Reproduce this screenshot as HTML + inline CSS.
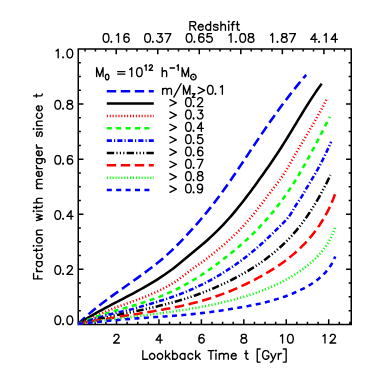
<!DOCTYPE html>
<html><head><meta charset="utf-8"><title>Fraction with merger since t</title>
<style>html,body{margin:0;padding:0;background:#fff;font-family:"Liberation Sans",sans-serif}svg{display:block}</style>
</head><body>
<svg width="374" height="374" viewBox="0 0 374 374">
<rect x="0" y="0" width="374" height="374" fill="#fff"/>
<g fill="none" stroke-width="2.55"><path d="M106.8 91.2 H153.8" stroke="#0000ff" stroke-dasharray="9.4 4.6"/><path d="M106.8 103.55 H153.8" stroke="#000000"/><path d="M106.8 115.9 H153.8" stroke="#ff0000" stroke-dasharray="1.1 1.8"/><path d="M106.8 128.25 H153.8" stroke="#00ff00" stroke-dasharray="5 4.4"/><path d="M106.8 140.6 H153.8" stroke="#0000ff" stroke-dasharray="5.1 2.1 1.2 2.1"/><path d="M106.8 152.95 H153.8" stroke="#000000" stroke-dasharray="7.4 2.2 1.2 2.2 1.2 2.2 1.2 2.2"/><path d="M106.8 165.3 H153.8" stroke="#ff0000" stroke-dasharray="9.4 4.6"/><path d="M106.8 177.65 H153.8" stroke="#00ff00" stroke-dasharray="1.1 1.8"/><path d="M106.8 190 H153.8" stroke="#0000ff" stroke-dasharray="5 4.4"/></g>
<path d="M78.25 49H351.25V324.4H78.25ZM84.67 324.4v-2.6M85.05 49v2.6M95.28 324.4v-2.6M95.43 49v2.6M105.89 324.4v-2.6M105.81 49v2.6M116.5 324.4v-5.2M116.2 49v5.2M127.11 324.4v-2.6M126.58 49v2.6M137.72 324.4v-2.6M136.97 49v2.6M148.33 324.4v-2.6M147.35 49v2.6M158.94 324.4v-5.2M157.74 49v5.2M169.55 324.4v-2.6M168.12 49v2.6M180.16 324.4v-2.6M178.51 49v2.6M190.77 324.4v-2.6M188.89 49v2.6M201.38 324.4v-5.2M199.28 49v5.2M211.99 324.4v-2.6M209.66 49v2.6M222.6 324.4v-2.6M220.05 49v2.6M233.21 324.4v-2.6M230.44 49v2.6M243.82 324.4v-5.2M240.82 49v5.2M254.43 324.4v-2.6M251.2 49v2.6M265.04 324.4v-2.6M261.59 49v2.6M275.65 324.4v-2.6M271.98 49v2.6M286.26 324.4v-5.2M282.36 49v5.2M296.87 324.4v-2.6M292.75 49v2.6M307.48 324.4v-2.6M303.13 49v2.6M318.09 324.4v-2.6M313.51 49v2.6M328.7 324.4v-5.2M323.9 49v5.2M339.31 324.4v-2.6M334.28 49v2.6M349.92 324.4v-2.6M344.67 49v2.6M78.25 310.63h2.6M351.25 310.63h-2.6M78.25 296.86h2.6M351.25 296.86h-2.6M78.25 283.09h2.6M351.25 283.09h-2.6M78.25 269.32h5.2M351.25 269.32h-5.2M78.25 255.55h2.6M351.25 255.55h-2.6M78.25 241.78h2.6M351.25 241.78h-2.6M78.25 228.01h2.6M351.25 228.01h-2.6M78.25 214.24h5.2M351.25 214.24h-5.2M78.25 200.47h2.6M351.25 200.47h-2.6M78.25 186.7h2.6M351.25 186.7h-2.6M78.25 172.93h2.6M351.25 172.93h-2.6M78.25 159.16h5.2M351.25 159.16h-5.2M78.25 145.39h2.6M351.25 145.39h-2.6M78.25 131.62h2.6M351.25 131.62h-2.6M78.25 117.85h2.6M351.25 117.85h-2.6M78.25 104.08h5.2M351.25 104.08h-5.2M78.25 90.31h2.6M351.25 90.31h-2.6M78.25 76.54h2.6M351.25 76.54h-2.6M78.25 62.77h2.6M351.25 62.77h-2.6" fill="none" stroke="#000" stroke-width="1.5" stroke-linejoin="miter"/>
<g fill="none" stroke-width="2.55" stroke-linejoin="round"><polyline points="78.3,323.8 81.04,321.12 83.84,318.49 86.68,315.92 89.57,313.4 92.5,310.93 95.46,308.5 98.47,306.11 101.5,303.76 104.55,301.44 107.63,299.14 110.74,296.87 113.85,294.62 116.99,292.39 120.13,290.16 123.27,287.95 126.42,285.74 129.57,283.53 132.71,281.32 135.85,279.11 138.97,276.88 142.08,274.63 145.18,272.37 148.24,270.09 151.29,267.78 154.3,265.44 157.29,263.07 160.23,260.66 163.14,258.2 166.01,255.71 168.82,253.16 171.6,250.57 174.33,247.93 177.03,245.25 179.7,242.54 182.34,239.8 184.96,237.03 187.57,234.24 190.15,231.42 192.73,228.59 195.28,225.74 197.81,222.87 200.31,219.97 202.79,217.05 205.25,214.11 207.68,211.15 210.07,208.17 212.44,205.16 214.77,202.14 217.08,199.09 219.37,196.03 221.62,192.95 223.86,189.85 226.07,186.74 228.27,183.61 230.45,180.47 232.62,177.33 234.77,174.17 236.91,171.01 239.04,167.83 241.17,164.66 243.29,161.48 245.41,158.29 247.52,155.11 249.63,151.92 251.75,148.74 253.87,145.56 256,142.38 258.13,139.2 260.27,136.04 262.42,132.87 264.58,129.72 266.75,126.57 268.93,123.43 271.13,120.3 273.33,117.17 275.56,114.06 277.79,110.96 280.05,107.87 282.32,104.79 284.61,101.72 286.92,98.67 289.25,95.63 291.6,92.61 293.97,89.6 296.37,86.6 298.79,83.62 301.23,80.66 303.7,77.72 306.2,74.8" stroke="#0000ff" stroke-dasharray="9.4 4.6"/><polyline points="78.3,323.8 81.62,321.66 84.96,319.57 88.33,317.54 91.73,315.54 95.14,313.58 98.58,311.66 102.03,309.77 105.49,307.9 108.96,306.05 112.44,304.22 115.93,302.4 119.42,300.58 122.91,298.76 126.39,296.94 129.87,295.1 133.35,293.26 136.81,291.39 140.26,289.5 143.69,287.58 147.1,285.63 150.49,283.65 153.85,281.62 157.18,279.55 160.48,277.44 163.74,275.26 166.96,273.04 170.14,270.75 173.27,268.4 176.36,265.98 179.41,263.52 182.44,261.02 185.45,258.51 188.45,255.99 191.46,253.48 194.47,250.99 197.48,248.5 200.49,246.01 203.47,243.48 206.43,240.93 209.35,238.32 212.24,235.66 215.09,232.95 217.9,230.19 220.66,227.38 223.37,224.53 226.04,221.65 228.67,218.74 231.25,215.8 233.78,212.83 236.28,209.83 238.74,206.81 241.17,203.77 243.57,200.7 245.94,197.62 248.29,194.52 250.62,191.41 252.92,188.29 255.21,185.15 257.49,182 259.76,178.85 262.02,175.69 264.27,172.53 266.51,169.35 268.73,166.16 270.94,162.97 273.14,159.75 275.31,156.53 277.47,153.28 279.61,150.02 281.72,146.73 283.82,143.43 285.89,140.11 287.95,136.77 289.99,133.42 292.03,130.06 294.06,126.69 296.09,123.33 298.12,119.96 300.16,116.59 302.21,113.23 304.27,109.87 306.35,106.53 308.45,103.2 310.58,99.89 312.73,96.6 314.92,93.34 317.14,90.09 319.4,86.88 321.7,83.7" stroke="#000000"/><polyline points="78.3,323.8 81.89,322.29 85.48,320.73 89.06,319.13 92.64,317.51 96.22,315.88 99.8,314.25 103.39,312.65 106.98,311.08 110.58,309.57 114.19,308.11 117.81,306.74 121.45,305.45 125.09,304.2 128.73,302.93 132.37,301.62 136.01,300.28 139.66,298.9 143.3,297.49 146.94,296.04 150.56,294.53 154.15,292.96 157.72,291.33 161.24,289.63 164.72,287.84 168.15,285.97 171.52,284.01 174.82,281.94 178.04,279.77 181.19,277.48 184.29,275.13 187.38,272.75 190.49,270.39 193.64,268.08 196.84,265.83 200.03,263.58 203.17,261.29 206.26,258.96 209.32,256.58 212.37,254.17 215.41,251.73 218.43,249.25 221.43,246.74 224.41,244.2 227.35,241.61 230.25,238.99 233.1,236.33 235.89,233.63 238.63,230.89 241.31,228.11 243.93,225.3 246.51,222.47 249.04,219.59 251.53,216.67 253.98,213.69 256.4,210.66 258.8,207.59 261.18,204.49 263.55,201.37 265.92,198.24 268.3,195.1 270.68,191.98 273.07,188.88 275.46,185.78 277.81,182.67 280.12,179.53 282.35,176.34 284.48,173.09 286.52,169.77 288.49,166.4 290.42,163 292.34,159.59 294.26,156.18 296.21,152.78 298.17,149.39 300.15,146.02 302.14,142.65 304.14,139.28 306.14,135.92 308.14,132.55 310.13,129.19 312.11,125.82 314.08,122.44 316.03,119.05 317.96,115.65 319.86,112.24 321.73,108.81 323.56,105.36 325.35,101.89 327.1,98.4" stroke="#ff0000" stroke-dasharray="1.15 2.13"/><polyline points="78.3,323.8 81.81,322.23 85.35,320.75 88.91,319.34 92.5,318 96.1,316.73 99.72,315.51 103.36,314.34 107.01,313.21 110.67,312.11 114.34,311.03 118.01,309.98 121.68,308.93 125.36,307.88 129.03,306.82 132.7,305.76 136.37,304.67 140.02,303.55 143.67,302.39 147.29,301.19 150.91,299.94 154.5,298.63 158.08,297.28 161.64,295.87 165.17,294.41 168.67,292.89 172.15,291.32 175.6,289.69 179.02,288.01 182.41,286.28 185.76,284.48 189.07,282.63 192.35,280.72 195.59,278.75 198.79,276.73 201.96,274.66 205.1,272.54 208.22,270.39 211.32,268.19 214.4,265.96 217.46,263.71 220.51,261.42 223.55,259.1 226.56,256.76 229.56,254.38 232.53,251.97 235.48,249.53 238.4,247.06 241.29,244.55 244.16,242.01 246.99,239.43 249.79,236.81 252.55,234.16 255.27,231.48 257.96,228.75 260.6,225.99 263.2,223.18 265.76,220.34 268.28,217.47 270.76,214.56 273.19,211.61 275.59,208.64 277.94,205.63 280.25,202.59 282.53,199.52 284.76,196.42 286.96,193.29 289.11,190.14 291.22,186.96 293.3,183.76 295.34,180.53 297.34,177.28 299.3,174.01 301.22,170.72 303.12,167.42 304.99,164.1 306.84,160.76 308.68,157.42 310.5,154.07 312.31,150.72 314.11,147.35 315.89,143.98 317.66,140.6 319.43,137.21 321.18,133.81 322.92,130.41 324.65,126.99 326.38,123.57 328.09,120.14 329.8,116.7" stroke="#00ff00" stroke-dasharray="5 4.4"/><polyline points="78.3,323.8 81.74,322.78 85.23,321.72 88.75,320.64 92.29,319.55 95.86,318.45 99.44,317.37 103.02,316.31 106.61,315.28 110.18,314.31 113.75,313.4 117.29,312.56 120.8,311.81 124.29,311.12 127.78,310.34 131.3,309.39 134.83,308.36 138.37,307.32 141.91,306.3 145.45,305.28 148.99,304.25 152.52,303.21 156.05,302.16 159.58,301.09 163.09,300 166.6,298.88 170.09,297.72 173.57,296.52 177.04,295.27 180.49,293.97 183.92,292.62 187.33,291.22 190.73,289.77 194.1,288.26 197.45,286.71 200.78,285.11 204.08,283.46 207.36,281.76 210.62,280.02 213.84,278.23 217.05,276.4 220.22,274.53 223.37,272.61 226.48,270.65 229.57,268.64 232.63,266.59 235.66,264.5 238.66,262.37 241.63,260.2 244.57,257.98 247.47,255.72 250.35,253.42 253.2,251.08 256.01,248.69 258.8,246.27 261.55,243.81 264.28,241.32 266.99,238.8 269.67,236.25 272.33,233.69 274.98,231.1 277.61,228.51 280.23,225.91 282.84,223.3 285.4,220.65 287.83,217.9 290.06,214.97 292.05,211.85 293.9,208.65 295.72,205.53 297.64,202.61 299.62,199.82 301.54,196.9 303.35,193.8 305.17,190.64 307.03,187.47 308.92,184.3 310.83,181.12 312.73,177.93 314.61,174.74 316.45,171.52 318.24,168.3 319.99,165.05 321.69,161.79 323.36,158.51 324.98,155.22 326.56,151.9 328.11,148.55 329.62,145.19 331.1,141.8" stroke="#0000ff" stroke-dasharray="5.1 2.1 1.2 2.1"/><polyline points="78.3,323.8 81.65,322.96 85,322.14 88.36,321.34 91.72,320.56 95.1,319.79 98.47,319.04 101.85,318.3 105.23,317.58 108.62,316.86 112,316.14 115.39,315.44 118.79,314.73 122.18,314.03 125.57,313.33 128.96,312.62 132.35,311.91 135.74,311.2 139.12,310.47 142.51,309.74 145.88,309 149.26,308.24 152.63,307.46 156,306.67 159.36,305.86 162.71,305.03 166.06,304.18 169.4,303.3 172.73,302.4 176.06,301.47 179.37,300.51 182.68,299.52 185.97,298.49 189.26,297.43 192.53,296.33 195.79,295.19 199.04,294.01 202.27,292.8 205.49,291.55 208.7,290.26 211.89,288.94 215.07,287.59 218.23,286.2 221.37,284.77 224.49,283.31 227.6,281.82 230.69,280.3 233.75,278.74 236.8,277.14 239.82,275.51 242.82,273.84 245.8,272.12 248.75,270.37 251.68,268.57 254.58,266.73 257.45,264.85 260.3,262.92 263.11,260.94 265.89,258.92 268.64,256.85 271.35,254.73 274.02,252.56 276.65,250.35 279.24,248.08 281.78,245.77 284.28,243.41 286.73,240.99 289.13,238.53 291.48,236.01 293.78,233.45 296.02,230.83 298.21,228.17 300.36,225.47 302.45,222.73 304.5,219.95 306.51,217.13 308.47,214.29 310.38,211.41 312.26,208.5 314.09,205.57 315.89,202.61 317.64,199.62 319.36,196.62 321.04,193.59 322.68,190.54 324.29,187.48 325.87,184.41 327.41,181.32 328.92,178.21 330.4,175.1" stroke="#000000" stroke-dasharray="7.4 2.2 1.2 2.2 1.2 2.2 1.2 2.2"/><polyline points="78.3,323.8 81.65,323.16 85,322.53 88.35,321.92 91.71,321.32 95.06,320.74 98.42,320.16 101.78,319.59 105.15,319.04 108.51,318.48 111.87,317.94 115.24,317.4 118.61,316.86 121.97,316.32 125.34,315.79 128.71,315.25 132.08,314.72 135.44,314.18 138.81,313.64 142.18,313.09 145.54,312.54 148.91,311.98 152.27,311.41 155.63,310.83 158.99,310.24 162.35,309.64 165.7,309.03 169.06,308.39 172.4,307.75 175.75,307.08 179.09,306.38 182.42,305.66 185.74,304.92 189.05,304.14 192.36,303.33 195.66,302.49 198.94,301.61 202.22,300.69 205.48,299.74 208.73,298.75 211.98,297.72 215.2,296.65 218.42,295.55 221.62,294.4 224.81,293.21 227.98,291.97 231.14,290.7 234.28,289.38 237.41,288.03 240.52,286.63 243.62,285.2 246.69,283.73 249.75,282.22 252.8,280.67 255.82,279.09 258.82,277.48 261.8,275.83 264.77,274.15 267.7,272.42 270.62,270.66 273.5,268.86 276.35,267.01 279.17,265.12 281.95,263.17 284.7,261.18 287.4,259.13 290.06,257.03 292.68,254.88 295.25,252.67 297.77,250.41 300.23,248.09 302.65,245.71 305.01,243.27 307.31,240.78 309.56,238.22 311.74,235.62 313.86,232.96 315.92,230.24 317.91,227.48 319.84,224.67 321.69,221.81 323.48,218.91 325.19,215.96 326.83,212.97 328.39,209.93 329.87,206.86 331.28,203.75 332.6,200.6 333.84,197.42 335,194.2" stroke="#ff0000" stroke-dasharray="9.4 4.6"/><polyline points="78.3,323.8 81.49,323.35 84.69,322.9 87.89,322.46 91.09,322.03 94.3,321.61 97.51,321.19 100.72,320.78 103.93,320.37 107.14,319.97 110.36,319.57 113.57,319.17 116.79,318.78 120,318.39 123.22,317.99 126.44,317.6 129.66,317.21 132.88,316.82 136.1,316.42 139.32,316.02 142.54,315.62 145.75,315.21 148.97,314.8 152.19,314.39 155.4,313.97 158.61,313.54 161.82,313.1 165.03,312.66 168.24,312.21 171.45,311.75 174.65,311.28 177.85,310.8 181.05,310.31 184.24,309.8 187.44,309.29 190.62,308.76 193.81,308.22 196.99,307.66 200.17,307.09 203.34,306.49 206.51,305.89 209.67,305.26 212.83,304.61 215.99,303.93 219.14,303.24 222.28,302.52 225.42,301.78 228.55,301 231.68,300.2 234.79,299.38 237.91,298.52 241.01,297.63 244.11,296.7 247.21,295.74 250.29,294.75 253.37,293.72 256.44,292.66 259.5,291.55 262.55,290.41 265.58,289.22 268.6,287.99 271.6,286.71 274.58,285.39 277.53,284.02 280.46,282.6 283.36,281.13 286.22,279.6 289.05,278.02 291.85,276.39 294.61,274.7 297.32,272.95 299.99,271.14 302.62,269.27 305.19,267.33 307.72,265.33 310.19,263.27 312.6,261.14 314.94,258.93 317.21,256.66 319.4,254.31 321.5,251.89 323.5,249.39 325.41,246.82 327.2,244.17 328.88,241.43 330.44,238.62 331.87,235.72 333.16,232.73 334.3,229.66 335.3,226.5" stroke="#00ff00" stroke-dasharray="1.15 2.13"/><polyline points="78.3,323.8 81.39,323.5 84.48,323.2 87.56,322.89 90.64,322.59 93.72,322.29 96.8,321.99 99.88,321.68 102.95,321.39 106.03,321.09 109.11,320.79 112.18,320.5 115.26,320.22 118.33,319.94 121.41,319.66 124.49,319.39 127.56,319.13 130.65,318.87 133.73,318.62 136.82,318.38 139.9,318.15 143,317.92 146.09,317.71 149.19,317.5 152.28,317.29 155.38,317.09 158.48,316.88 161.58,316.67 164.67,316.46 167.77,316.25 170.86,316.03 173.95,315.79 177.04,315.55 180.12,315.3 183.19,315.03 186.27,314.75 189.34,314.45 192.4,314.14 195.47,313.82 198.53,313.48 201.58,313.13 204.64,312.76 207.7,312.38 210.75,311.99 213.8,311.58 216.85,311.16 219.91,310.73 222.96,310.28 226.01,309.82 229.07,309.34 232.12,308.85 235.18,308.35 238.24,307.83 241.3,307.3 244.36,306.75 247.42,306.18 250.48,305.59 253.53,304.97 256.58,304.33 259.62,303.66 262.65,302.96 265.67,302.22 268.68,301.45 271.67,300.64 274.65,299.79 277.62,298.89 280.57,297.96 283.5,296.97 286.4,295.94 289.29,294.85 292.16,293.71 294.99,292.51 297.81,291.26 300.59,289.94 303.35,288.56 306.07,287.11 308.74,285.59 311.36,283.99 313.92,282.3 316.41,280.52 318.82,278.64 321.14,276.66 323.37,274.57 325.48,272.37 327.47,270.05 329.32,267.61 331.04,265.04 332.59,262.33 333.99,259.49 335.2,256.5" stroke="#0000ff" stroke-dasharray="5 4.4"/></g>
<path d="M114.02 336.44 L114.02 336.03 L114.44 335.21 L114.85 334.8 L115.67 334.39 L117.33 334.39 L118.15 334.8 L118.56 335.21 L118.98 336.03 L118.98 336.85 L118.56 337.67 L117.74 338.9 L113.61 343 L119.39 343M160.18 334.39 L156.05 340.13 L162.24 340.13M160.18 334.39 L160.18 343M203.86 335.62 L203.44 334.8 L202.21 334.39 L201.38 334.39 L200.14 334.8 L199.31 336.03 L198.9 338.08 L198.9 340.13 L199.31 341.77 L200.14 342.59 L201.38 343 L201.79 343 L203.03 342.59 L203.86 341.77 L204.27 340.54 L204.27 340.13 L203.86 338.9 L203.03 338.08 L201.79 337.67 L201.38 337.67 L200.14 338.08 L199.31 338.9 L198.9 340.13M242.99 334.39 L241.75 334.8 L241.34 335.62 L241.34 336.44 L241.75 337.26 L242.58 337.67 L244.23 338.08 L245.47 338.49 L246.3 339.31 L246.71 340.13 L246.71 341.36 L246.3 342.18 L245.88 342.59 L244.65 343 L242.99 343 L241.75 342.59 L241.34 342.18 L240.93 341.36 L240.93 340.13 L241.34 339.31 L242.17 338.49 L243.41 338.08 L245.06 337.67 L245.88 337.26 L246.3 336.44 L246.3 335.62 L245.88 334.8 L244.65 334.39 L242.99 334.39M280.48 336.03 L281.3 335.62 L282.54 334.39 L282.54 343M289.98 334.39 L288.74 334.8 L287.91 336.03 L287.5 338.08 L287.5 339.31 L287.91 341.36 L288.74 342.59 L289.98 343 L290.8 343 L292.04 342.59 L292.87 341.36 L293.28 339.31 L293.28 338.08 L292.87 336.03 L292.04 334.8 L290.8 334.39 L289.98 334.39M322.92 336.03 L323.74 335.62 L324.98 334.39 L324.98 343M330.35 336.44 L330.35 336.03 L330.76 335.21 L331.18 334.8 L332 334.39 L333.66 334.39 L334.48 334.8 L334.89 335.21 L335.31 336.03 L335.31 336.85 L334.89 337.67 L334.07 338.9 L329.94 343 L335.72 343M105.63 33.59 L104.39 34 L103.56 35.23 L103.15 37.28 L103.15 38.51 L103.56 40.56 L104.39 41.79 L105.63 42.2 L106.45 42.2 L107.69 41.79 L108.52 40.56 L108.93 38.51 L108.93 37.28 L108.52 35.23 L107.69 34 L106.45 33.59 L105.63 33.59M111.33 41.38 L110.91 41.79 L111.33 42.2 L111.74 41.79 L111.33 41.38M116.45 35.23 L117.27 34.82 L118.51 33.59 L118.51 42.2M128.84 34.82 L128.42 34 L127.19 33.59 L126.36 33.59 L125.12 34 L124.29 35.23 L123.88 37.28 L123.88 39.33 L124.29 40.97 L125.12 41.79 L126.36 42.2 L126.77 42.2 L128.01 41.79 L128.84 40.97 L129.25 39.74 L129.25 39.33 L128.84 38.1 L128.01 37.28 L126.77 36.87 L126.36 36.87 L125.12 37.28 L124.29 38.1 L123.88 39.33M147.17 33.59 L145.93 34 L145.1 35.23 L144.69 37.28 L144.69 38.51 L145.1 40.56 L145.93 41.79 L147.17 42.2 L147.99 42.2 L149.23 41.79 L150.06 40.56 L150.47 38.51 L150.47 37.28 L150.06 35.23 L149.23 34 L147.99 33.59 L147.17 33.59M152.87 41.38 L152.45 41.79 L152.87 42.2 L153.28 41.79 L152.87 41.38M157.57 33.59 L162.12 33.59 L159.64 36.87 L160.88 36.87 L161.7 37.28 L162.12 37.69 L162.53 38.92 L162.53 39.74 L162.12 40.97 L161.29 41.79 L160.05 42.2 L158.81 42.2 L157.57 41.79 L157.16 41.38 L156.75 40.56M170.79 33.59 L166.66 42.2M165.01 33.59 L170.79 33.59M188.71 33.59 L187.47 34 L186.64 35.23 L186.23 37.28 L186.23 38.51 L186.64 40.56 L187.47 41.79 L188.71 42.2 L189.53 42.2 L190.77 41.79 L191.6 40.56 L192.01 38.51 L192.01 37.28 L191.6 35.23 L190.77 34 L189.53 33.59 L188.71 33.59M194.41 41.38 L193.99 41.79 L194.41 42.2 L194.82 41.79 L194.41 41.38M203.66 34.82 L203.24 34 L202.01 33.59 L201.18 33.59 L199.94 34 L199.11 35.23 L198.7 37.28 L198.7 39.33 L199.11 40.97 L199.94 41.79 L201.18 42.2 L201.59 42.2 L202.83 41.79 L203.66 40.97 L204.07 39.74 L204.07 39.33 L203.66 38.1 L202.83 37.28 L201.59 36.87 L201.18 36.87 L199.94 37.28 L199.11 38.1 L198.7 39.33M211.5 33.59 L207.37 33.59 L206.96 37.28 L207.37 36.87 L208.61 36.46 L209.85 36.46 L211.09 36.87 L211.92 37.69 L212.33 38.92 L212.33 39.74 L211.92 40.97 L211.09 41.79 L209.85 42.2 L208.61 42.2 L207.37 41.79 L206.96 41.38 L206.55 40.56M229.01 35.23 L229.83 34.82 L231.07 33.59 L231.07 42.2M235.95 41.38 L235.53 41.79 L235.95 42.2 L236.36 41.79 L235.95 41.38M242.31 33.59 L241.07 34 L240.24 35.23 L239.83 37.28 L239.83 38.51 L240.24 40.56 L241.07 41.79 L242.31 42.2 L243.13 42.2 L244.37 41.79 L245.2 40.56 L245.61 38.51 L245.61 37.28 L245.2 35.23 L244.37 34 L243.13 33.59 L242.31 33.59M250.15 33.59 L248.91 34 L248.5 34.82 L248.5 35.64 L248.91 36.46 L249.74 36.87 L251.39 37.28 L252.63 37.69 L253.46 38.51 L253.87 39.33 L253.87 40.56 L253.46 41.38 L253.04 41.79 L251.81 42.2 L250.15 42.2 L248.91 41.79 L248.5 41.38 L248.09 40.56 L248.09 39.33 L248.5 38.51 L249.33 37.69 L250.57 37.28 L252.22 36.87 L253.04 36.46 L253.46 35.64 L253.46 34.82 L253.04 34 L251.81 33.59 L250.15 33.59M270.55 35.23 L271.37 34.82 L272.61 33.59 L272.61 42.2M277.49 41.38 L277.07 41.79 L277.49 42.2 L277.9 41.79 L277.49 41.38M283.43 33.59 L282.19 34 L281.78 34.82 L281.78 35.64 L282.19 36.46 L283.02 36.87 L284.67 37.28 L285.91 37.69 L286.74 38.51 L287.15 39.33 L287.15 40.56 L286.74 41.38 L286.32 41.79 L285.09 42.2 L283.43 42.2 L282.19 41.79 L281.78 41.38 L281.37 40.56 L281.37 39.33 L281.78 38.51 L282.61 37.69 L283.85 37.28 L285.5 36.87 L286.32 36.46 L286.74 35.64 L286.74 34.82 L286.32 34 L285.09 33.59 L283.43 33.59M295.41 33.59 L291.28 42.2M289.63 33.59 L295.41 33.59M314.98 33.59 L310.85 39.33 L317.04 39.33M314.98 33.59 L314.98 42.2M319.03 41.38 L318.61 41.79 L319.03 42.2 L319.44 41.79 L319.03 41.38M324.15 35.23 L324.97 34.82 L326.21 33.59 L326.21 42.2M335.3 33.59 L331.17 39.33 L337.36 39.33M335.3 33.59 L335.3 42.2M57.35 315.89 L56.11 316.3 L55.28 317.53 L54.87 319.58 L54.87 320.81 L55.28 322.86 L56.11 324.09 L57.35 324.5 L58.17 324.5 L59.41 324.09 L60.24 322.86 L60.65 320.81 L60.65 319.58 L60.24 317.53 L59.41 316.3 L58.17 315.89 L57.35 315.89M63.05 323.68 L62.63 324.09 L63.05 324.5 L63.46 324.09 L63.05 323.68M69.41 315.89 L68.17 316.3 L67.34 317.53 L66.93 319.58 L66.93 320.81 L67.34 322.86 L68.17 324.09 L69.41 324.5 L70.23 324.5 L71.47 324.09 L72.3 322.86 L72.71 320.81 L72.71 319.58 L72.3 317.53 L71.47 316.3 L70.23 315.89 L69.41 315.89M57.35 265.71 L56.11 266.12 L55.28 267.35 L54.87 269.4 L54.87 270.63 L55.28 272.68 L56.11 273.91 L57.35 274.32 L58.17 274.32 L59.41 273.91 L60.24 272.68 L60.65 270.63 L60.65 269.4 L60.24 267.35 L59.41 266.12 L58.17 265.71 L57.35 265.71M63.05 273.5 L62.63 273.91 L63.05 274.32 L63.46 273.91 L63.05 273.5M67.34 267.76 L67.34 267.35 L67.76 266.53 L68.17 266.12 L68.99 265.71 L70.65 265.71 L71.47 266.12 L71.89 266.53 L72.3 267.35 L72.3 268.17 L71.89 268.99 L71.06 270.22 L66.93 274.32 L72.71 274.32M57.35 210.63 L56.11 211.04 L55.28 212.27 L54.87 214.32 L54.87 215.55 L55.28 217.6 L56.11 218.83 L57.35 219.24 L58.17 219.24 L59.41 218.83 L60.24 217.6 L60.65 215.55 L60.65 214.32 L60.24 212.27 L59.41 211.04 L58.17 210.63 L57.35 210.63M63.05 218.42 L62.63 218.83 L63.05 219.24 L63.46 218.83 L63.05 218.42M71.06 210.63 L66.93 216.37 L73.12 216.37M71.06 210.63 L71.06 219.24M57.35 155.55 L56.11 155.96 L55.28 157.19 L54.87 159.24 L54.87 160.47 L55.28 162.52 L56.11 163.75 L57.35 164.16 L58.17 164.16 L59.41 163.75 L60.24 162.52 L60.65 160.47 L60.65 159.24 L60.24 157.19 L59.41 155.96 L58.17 155.55 L57.35 155.55M63.05 163.34 L62.63 163.75 L63.05 164.16 L63.46 163.75 L63.05 163.34M72.3 156.78 L71.89 155.96 L70.65 155.55 L69.82 155.55 L68.58 155.96 L67.76 157.19 L67.34 159.24 L67.34 161.29 L67.76 162.93 L68.58 163.75 L69.82 164.16 L70.23 164.16 L71.47 163.75 L72.3 162.93 L72.71 161.7 L72.71 161.29 L72.3 160.06 L71.47 159.24 L70.23 158.83 L69.82 158.83 L68.58 159.24 L67.76 160.06 L67.34 161.29M57.35 100.47 L56.11 100.88 L55.28 102.11 L54.87 104.16 L54.87 105.39 L55.28 107.44 L56.11 108.67 L57.35 109.08 L58.17 109.08 L59.41 108.67 L60.24 107.44 L60.65 105.39 L60.65 104.16 L60.24 102.11 L59.41 100.88 L58.17 100.47 L57.35 100.47M63.05 108.26 L62.63 108.67 L63.05 109.08 L63.46 108.67 L63.05 108.26M68.99 100.47 L67.76 100.88 L67.34 101.7 L67.34 102.52 L67.76 103.34 L68.58 103.75 L70.23 104.16 L71.47 104.57 L72.3 105.39 L72.71 106.21 L72.71 107.44 L72.3 108.26 L71.89 108.67 L70.65 109.08 L68.99 109.08 L67.76 108.67 L67.34 108.26 L66.93 107.44 L66.93 106.21 L67.34 105.39 L68.17 104.57 L69.41 104.16 L71.06 103.75 L71.89 103.34 L72.3 102.52 L72.3 101.7 L71.89 100.88 L70.65 100.47 L68.99 100.47M56.11 50.83 L56.93 50.42 L58.17 49.19 L58.17 57.8M63.05 56.98 L62.63 57.39 L63.05 57.8 L63.46 57.39 L63.05 56.98M69.41 49.19 L68.17 49.6 L67.34 50.83 L66.93 52.88 L66.93 54.11 L67.34 56.16 L68.17 57.39 L69.41 57.8 L70.23 57.8 L71.47 57.39 L72.3 56.16 L72.71 54.11 L72.71 52.88 L72.3 50.83 L71.47 49.6 L70.23 49.19 L69.41 49.19M142.84 350.59 L142.84 359.2M142.84 359.2 L147.8 359.2M151.52 353.46 L150.69 353.87 L149.87 354.69 L149.45 355.92 L149.45 356.74 L149.87 357.97 L150.69 358.79 L151.52 359.2 L152.76 359.2 L153.58 358.79 L154.41 357.97 L154.82 356.74 L154.82 355.92 L154.41 354.69 L153.58 353.87 L152.76 353.46 L151.52 353.46M159.36 353.46 L158.54 353.87 L157.71 354.69 L157.3 355.92 L157.3 356.74 L157.71 357.97 L158.54 358.79 L159.36 359.2 L160.6 359.2 L161.43 358.79 L162.26 357.97 L162.67 356.74 L162.67 355.92 L162.26 354.69 L161.43 353.87 L160.6 353.46 L159.36 353.46M165.56 350.59 L165.56 359.2M169.69 353.46 L165.56 357.56M167.21 355.92 L170.1 359.2M172.58 350.59 L172.58 359.2M172.58 354.69 L173.41 353.87 L174.23 353.46 L175.47 353.46 L176.3 353.87 L177.12 354.69 L177.54 355.92 L177.54 356.74 L177.12 357.97 L176.3 358.79 L175.47 359.2 L174.23 359.2 L173.41 358.79 L172.58 357.97M184.97 353.46 L184.97 359.2M184.97 354.69 L184.14 353.87 L183.32 353.46 L182.08 353.46 L181.25 353.87 L180.43 354.69 L180.01 355.92 L180.01 356.74 L180.43 357.97 L181.25 358.79 L182.08 359.2 L183.32 359.2 L184.14 358.79 L184.97 357.97M192.82 354.69 L191.99 353.87 L191.17 353.46 L189.93 353.46 L189.1 353.87 L188.27 354.69 L187.86 355.92 L187.86 356.74 L188.27 357.97 L189.1 358.79 L189.93 359.2 L191.17 359.2 L191.99 358.79 L192.82 357.97M195.71 350.59 L195.71 359.2M199.84 353.46 L195.71 357.56M197.36 355.92 L200.25 359.2M210.99 350.59 L210.99 359.2M208.1 350.59 L213.88 350.59M215.53 350.59 L215.95 351 L216.36 350.59 L215.95 350.18 L215.53 350.59M215.95 353.46 L215.95 359.2M219.25 353.46 L219.25 359.2M219.25 355.1 L220.49 353.87 L221.31 353.46 L222.55 353.46 L223.38 353.87 L223.79 355.1 L223.79 359.2M223.79 355.1 L225.03 353.87 L225.86 353.46 L227.1 353.46 L227.92 353.87 L228.34 355.1 L228.34 359.2M231.23 355.92 L236.18 355.92 L236.18 355.1 L235.77 354.28 L235.36 353.87 L234.53 353.46 L233.29 353.46 L232.47 353.87 L231.64 354.69 L231.23 355.92 L231.23 356.74 L231.64 357.97 L232.47 358.79 L233.29 359.2 L234.53 359.2 L235.36 358.79 L236.18 357.97M246.09 350.59 L246.09 357.56 L246.51 358.79 L247.33 359.2 L248.16 359.2M244.86 353.46 L247.75 353.46M257.25 348.95 L257.25 362.07M257.25 348.95 L260.14 348.95M257.25 362.07 L260.14 362.07M268.81 352.64 L268.4 351.82 L267.57 351 L266.74 350.59 L265.09 350.59 L264.27 351 L263.44 351.82 L263.03 352.64 L262.61 353.87 L262.61 355.92 L263.03 357.15 L263.44 357.97 L264.27 358.79 L265.09 359.2 L266.74 359.2 L267.57 358.79 L268.4 357.97 L268.81 357.15 L268.81 355.92M266.74 355.92 L268.81 355.92M270.87 353.46 L273.35 359.2M275.83 353.46 L273.35 359.2 L272.53 360.84 L271.7 361.66 L270.87 362.07 L270.46 362.07M278.31 353.46 L278.31 359.2M278.31 355.92 L278.72 354.69 L279.55 353.87 L280.37 353.46 L281.61 353.46M286.16 348.95 L286.16 362.07M283.26 348.95 L286.16 348.95M283.26 362.07 L286.16 362.07M189.93 21.59 L189.93 30.2M189.93 21.59 L193.65 21.59 L194.89 22 L195.3 22.41 L195.72 23.23 L195.72 24.05 L195.3 24.87 L194.89 25.28 L193.65 25.69 L189.93 25.69M192.82 25.69 L195.72 30.2M198.19 26.92 L203.15 26.92 L203.15 26.1 L202.74 25.28 L202.32 24.87 L201.5 24.46 L200.26 24.46 L199.43 24.87 L198.61 25.69 L198.19 26.92 L198.19 27.74 L198.61 28.97 L199.43 29.79 L200.26 30.2 L201.5 30.2 L202.32 29.79 L203.15 28.97M210.58 21.59 L210.58 30.2M210.58 25.69 L209.76 24.87 L208.93 24.46 L207.69 24.46 L206.87 24.87 L206.04 25.69 L205.63 26.92 L205.63 27.74 L206.04 28.97 L206.87 29.79 L207.69 30.2 L208.93 30.2 L209.76 29.79 L210.58 28.97M218.02 25.69 L217.6 24.87 L216.37 24.46 L215.13 24.46 L213.89 24.87 L213.47 25.69 L213.89 26.51 L214.71 26.92 L216.78 27.33 L217.6 27.74 L218.02 28.56 L218.02 28.97 L217.6 29.79 L216.37 30.2 L215.13 30.2 L213.89 29.79 L213.47 28.97M220.91 21.59 L220.91 30.2M220.91 26.1 L222.15 24.87 L222.97 24.46 L224.21 24.46 L225.04 24.87 L225.45 26.1 L225.45 30.2M228.34 21.59 L228.76 22 L229.17 21.59 L228.76 21.18 L228.34 21.59M228.76 24.46 L228.76 30.2M234.54 21.59 L233.71 21.59 L232.89 22 L232.47 23.23 L232.47 30.2M231.23 24.46 L234.12 24.46M237.43 21.59 L237.43 28.56 L237.84 29.79 L238.67 30.2 L239.49 30.2M236.19 24.46 L239.08 24.46M33.59 278.9 L42.2 278.9M33.59 278.9 L33.59 273.53M37.69 278.9 L37.69 275.6M36.46 271.47 L42.2 271.47M38.92 271.47 L37.69 271.05 L36.87 270.23 L36.46 269.4 L36.46 268.16M36.46 261.55 L42.2 261.55M37.69 261.55 L36.87 262.38 L36.46 263.21 L36.46 264.44 L36.87 265.27 L37.69 266.1 L38.92 266.51 L39.74 266.51 L40.97 266.1 L41.79 265.27 L42.2 264.44 L42.2 263.21 L41.79 262.38 L40.97 261.55M37.69 253.71 L36.87 254.53 L36.46 255.36 L36.46 256.6 L36.87 257.42 L37.69 258.25 L38.92 258.66 L39.74 258.66 L40.97 258.25 L41.79 257.42 L42.2 256.6 L42.2 255.36 L41.79 254.53 L40.97 253.71M33.59 250.4 L40.56 250.4 L41.79 249.99 L42.2 249.16 L42.2 248.34M36.46 251.64 L36.46 248.75M33.59 246.27 L34 245.86 L33.59 245.45 L33.18 245.86 L33.59 246.27M36.46 245.86 L42.2 245.86M36.46 240.9 L36.87 241.73 L37.69 242.56 L38.92 242.97 L39.74 242.97 L40.97 242.56 L41.79 241.73 L42.2 240.9 L42.2 239.66 L41.79 238.84 L40.97 238.01 L39.74 237.6 L38.92 237.6 L37.69 238.01 L36.87 238.84 L36.46 239.66 L36.46 240.9M36.46 234.71 L42.2 234.71M38.1 234.71 L36.87 233.47 L36.46 232.64 L36.46 231.4 L36.87 230.58 L38.1 230.17 L42.2 230.17M36.46 220.67 L42.2 219.01M36.46 217.36 L42.2 219.01M36.46 217.36 L42.2 215.71M36.46 214.06 L42.2 215.71M33.59 211.58 L34 211.17 L33.59 210.75 L33.18 211.17 L33.59 211.58M36.46 211.17 L42.2 211.17M33.59 207.45 L40.56 207.45 L41.79 207.04 L42.2 206.21 L42.2 205.39M36.46 208.69 L36.46 205.8M33.59 202.91 L42.2 202.91M38.1 202.91 L36.87 201.67 L36.46 200.84 L36.46 199.6 L36.87 198.78 L38.1 198.36 L42.2 198.36M36.46 188.45 L42.2 188.45M38.1 188.45 L36.87 187.21 L36.46 186.39 L36.46 185.15 L36.87 184.32 L38.1 183.91 L42.2 183.91M38.1 183.91 L36.87 182.67 L36.46 181.84 L36.46 180.61 L36.87 179.78 L38.1 179.37 L42.2 179.37M38.92 176.48 L38.92 171.52 L38.1 171.52 L37.28 171.93 L36.87 172.34 L36.46 173.17 L36.46 174.41 L36.87 175.24 L37.69 176.06 L38.92 176.48 L39.74 176.48 L40.97 176.06 L41.79 175.24 L42.2 174.41 L42.2 173.17 L41.79 172.34 L40.97 171.52M36.46 168.63 L42.2 168.63M38.92 168.63 L37.69 168.22 L36.87 167.39 L36.46 166.56 L36.46 165.32M36.46 158.72 L43.02 158.72 L44.25 159.13 L44.66 159.54 L45.07 160.37 L45.07 161.61 L44.66 162.43M37.69 158.72 L36.87 159.54 L36.46 160.37 L36.46 161.61 L36.87 162.43 L37.69 163.26 L38.92 163.67 L39.74 163.67 L40.97 163.26 L41.79 162.43 L42.2 161.61 L42.2 160.37 L41.79 159.54 L40.97 158.72M38.92 155.83 L38.92 150.87 L38.1 150.87 L37.28 151.28 L36.87 151.7 L36.46 152.52 L36.46 153.76 L36.87 154.59 L37.69 155.41 L38.92 155.83 L39.74 155.83 L40.97 155.41 L41.79 154.59 L42.2 153.76 L42.2 152.52 L41.79 151.7 L40.97 150.87M36.46 147.98 L42.2 147.98M38.92 147.98 L37.69 147.56 L36.87 146.74 L36.46 145.91 L36.46 144.67M37.69 131.87 L36.87 132.28 L36.46 133.52 L36.46 134.76 L36.87 136 L37.69 136.41 L38.51 136 L38.92 135.18 L39.33 133.11 L39.74 132.28 L40.56 131.87 L40.97 131.87 L41.79 132.28 L42.2 133.52 L42.2 134.76 L41.79 136 L40.97 136.41M33.59 129.39 L34 128.98 L33.59 128.57 L33.18 128.98 L33.59 129.39M36.46 128.98 L42.2 128.98M36.46 125.68 L42.2 125.68M38.1 125.68 L36.87 124.44 L36.46 123.61 L36.46 122.37 L36.87 121.55 L38.1 121.13 L42.2 121.13M37.69 113.29 L36.87 114.11 L36.46 114.94 L36.46 116.18 L36.87 117 L37.69 117.83 L38.92 118.24 L39.74 118.24 L40.97 117.83 L41.79 117 L42.2 116.18 L42.2 114.94 L41.79 114.11 L40.97 113.29M38.92 110.81 L38.92 105.85 L38.1 105.85 L37.28 106.27 L36.87 106.68 L36.46 107.5 L36.46 108.74 L36.87 109.57 L37.69 110.4 L38.92 110.81 L39.74 110.81 L40.97 110.4 L41.79 109.57 L42.2 108.74 L42.2 107.5 L41.79 106.68 L40.97 105.85M33.59 95.94 L40.56 95.94 L41.79 95.53 L42.2 94.7 L42.2 93.88M36.46 97.18 L36.46 94.29" fill="none" stroke="#000" stroke-width="1.35" stroke-linecap="round" stroke-linejoin="round"/>
<path d="M96.61 67.78 L96.61 76.6M96.61 67.78 L99.82 76.6M103.04 67.78 L99.82 76.6M103.04 67.78 L103.04 76.6M106.89 74.28 L106.14 74.54 L105.64 75.32 L105.4 76.63 L105.4 77.41 L105.64 78.71 L106.14 79.49 L106.89 79.75 L107.39 79.75 L108.14 79.49 L108.64 78.71 L108.89 77.41 L108.89 76.63 L108.64 75.32 L108.14 74.54 L107.39 74.28 L106.89 74.28M117.67 71.56 L124.91 71.56M117.67 74.08 L124.91 74.08M129.73 69.46 L130.54 69.04 L131.74 67.78 L131.74 76.6M138.98 67.78 L137.77 68.2 L136.97 69.46 L136.57 71.56 L136.57 72.82 L136.97 74.92 L137.77 76.18 L138.98 76.6 L139.78 76.6 L140.99 76.18 L141.79 74.92 L142.19 72.82 L142.19 71.56 L141.79 69.46 L140.99 68.2 L139.78 67.78 L138.98 67.78M144.9 65.87 L145.39 65.61 L146.14 64.83 L146.14 70.3M149.38 66.13 L149.38 65.87 L149.63 65.35 L149.88 65.09 L150.38 64.83 L151.38 64.83 L151.87 65.09 L152.12 65.35 L152.37 65.87 L152.37 66.39 L152.12 66.91 L151.63 67.7 L149.13 70.3 L152.62 70.3M162.21 67.78 L162.21 76.6M162.21 72.4 L163.42 71.14 L164.22 70.72 L165.43 70.72 L166.23 71.14 L166.64 72.4 L166.64 76.6M170.05 67.96 L174.53 67.96M177.02 65.87 L177.52 65.61 L178.27 64.83 L178.27 70.3M182.12 67.78 L182.12 76.6M182.12 67.78 L185.34 76.6M188.55 67.78 L185.34 76.6M188.55 67.78 L188.55 76.6M196.09 77.02 L195.89 78.09 L195.3 79 L194.43 79.61 L193.4 79.83 L192.37 79.61 L191.5 79 L190.91 78.09 L190.71 77.02 L190.91 75.94 L191.5 75.03 L192.37 74.42 L193.4 74.2 L194.43 74.42 L195.3 75.03 L195.89 75.94 L196.09 77.02M193.25 77.02 L193.55 77.02M162.61 88.32 L162.61 94.2M162.61 90 L163.81 88.74 L164.62 88.32 L165.82 88.32 L166.63 88.74 L167.03 90 L167.03 94.2M167.03 90 L168.24 88.74 L169.04 88.32 L170.25 88.32 L171.05 88.74 L171.45 90 L171.45 94.2M181.1 83.7 L173.86 97.14M183.51 85.38 L183.51 94.2M183.51 85.38 L186.73 94.2M189.94 85.38 L186.73 94.2M189.94 85.38 L189.94 94.2M195.04 93.7 L192.3 97.35M192.3 93.7 L195.04 93.7M192.3 97.35 L195.04 97.35M198.2 87.21 L204.63 90.42 L198.2 93.63M209.86 85.38 L208.65 85.8 L207.85 87.06 L207.45 89.16 L207.45 90.42 L207.85 92.52 L208.65 93.78 L209.86 94.2 L210.66 94.2 L211.87 93.78 L212.67 92.52 L213.08 90.42 L213.08 89.16 L212.67 87.06 L211.87 85.8 L210.66 85.38 L209.86 85.38M215.41 93.36 L215 93.78 L215.41 94.2 L215.81 93.78 L215.41 93.36M220.39 87.06 L221.2 86.64 L222.4 85.38 L222.4 94.2M169.91 99.59 L176.34 102.8 L169.91 106.01M188 97.76 L186.79 98.18 L185.99 99.44 L185.59 101.54 L185.59 102.8 L185.99 104.9 L186.79 106.16 L188 106.58 L188.8 106.58 L190.01 106.16 L190.81 104.9 L191.21 102.8 L191.21 101.54 L190.81 99.44 L190.01 98.18 L188.8 97.76 L188 97.76M193.55 105.74 L193.14 106.16 L193.55 106.58 L193.95 106.16 L193.55 105.74M197.73 99.86 L197.73 99.44 L198.13 98.6 L198.53 98.18 L199.33 97.76 L200.94 97.76 L201.75 98.18 L202.15 98.6 L202.55 99.44 L202.55 100.28 L202.15 101.12 L201.34 102.38 L197.32 106.58 L202.95 106.58M169.91 111.92 L176.34 115.13 L169.91 118.34M188 110.09 L186.79 110.51 L185.99 111.77 L185.59 113.87 L185.59 115.13 L185.99 117.23 L186.79 118.49 L188 118.91 L188.8 118.91 L190.01 118.49 L190.81 117.23 L191.21 115.13 L191.21 113.87 L190.81 111.77 L190.01 110.51 L188.8 110.09 L188 110.09M193.55 118.07 L193.14 118.49 L193.55 118.91 L193.95 118.49 L193.55 118.07M198.13 110.09 L202.55 110.09 L200.14 113.45 L201.34 113.45 L202.15 113.87 L202.55 114.29 L202.95 115.55 L202.95 116.39 L202.55 117.65 L201.75 118.49 L200.54 118.91 L199.33 118.91 L198.13 118.49 L197.73 118.07 L197.32 117.23M169.91 124.25 L176.34 127.46 L169.91 130.67M188 122.42 L186.79 122.84 L185.99 124.1 L185.59 126.2 L185.59 127.46 L185.99 129.56 L186.79 130.82 L188 131.24 L188.8 131.24 L190.01 130.82 L190.81 129.56 L191.21 127.46 L191.21 126.2 L190.81 124.1 L190.01 122.84 L188.8 122.42 L188 122.42M193.55 130.4 L193.14 130.82 L193.55 131.24 L193.95 130.82 L193.55 130.4M201.34 122.42 L197.32 128.3 L203.35 128.3M201.34 122.42 L201.34 131.24M169.91 136.58 L176.34 139.79 L169.91 143M188 134.75 L186.79 135.17 L185.99 136.43 L185.59 138.53 L185.59 139.79 L185.99 141.89 L186.79 143.15 L188 143.57 L188.8 143.57 L190.01 143.15 L190.81 141.89 L191.21 139.79 L191.21 138.53 L190.81 136.43 L190.01 135.17 L188.8 134.75 L188 134.75M193.55 142.73 L193.14 143.15 L193.55 143.57 L193.95 143.15 L193.55 142.73M202.15 134.75 L198.13 134.75 L197.73 138.53 L198.13 138.11 L199.33 137.69 L200.54 137.69 L201.75 138.11 L202.55 138.95 L202.95 140.21 L202.95 141.05 L202.55 142.31 L201.75 143.15 L200.54 143.57 L199.33 143.57 L198.13 143.15 L197.73 142.73 L197.32 141.89M169.91 148.91 L176.34 152.12 L169.91 155.33M188 147.08 L186.79 147.5 L185.99 148.76 L185.59 150.86 L185.59 152.12 L185.99 154.22 L186.79 155.48 L188 155.9 L188.8 155.9 L190.01 155.48 L190.81 154.22 L191.21 152.12 L191.21 150.86 L190.81 148.76 L190.01 147.5 L188.8 147.08 L188 147.08M193.55 155.06 L193.14 155.48 L193.55 155.9 L193.95 155.48 L193.55 155.06M202.55 148.34 L202.15 147.5 L200.94 147.08 L200.14 147.08 L198.93 147.5 L198.13 148.76 L197.73 150.86 L197.73 152.96 L198.13 154.64 L198.93 155.48 L200.14 155.9 L200.54 155.9 L201.75 155.48 L202.55 154.64 L202.95 153.38 L202.95 152.96 L202.55 151.7 L201.75 150.86 L200.54 150.44 L200.14 150.44 L198.93 150.86 L198.13 151.7 L197.73 152.96M169.91 161.24 L176.34 164.45 L169.91 167.66M188 159.41 L186.79 159.83 L185.99 161.09 L185.59 163.19 L185.59 164.45 L185.99 166.55 L186.79 167.81 L188 168.23 L188.8 168.23 L190.01 167.81 L190.81 166.55 L191.21 164.45 L191.21 163.19 L190.81 161.09 L190.01 159.83 L188.8 159.41 L188 159.41M193.55 167.39 L193.14 167.81 L193.55 168.23 L193.95 167.81 L193.55 167.39M202.95 159.41 L198.93 168.23M197.32 159.41 L202.95 159.41M169.91 173.57 L176.34 176.78 L169.91 179.99M188 171.74 L186.79 172.16 L185.99 173.42 L185.59 175.52 L185.59 176.78 L185.99 178.88 L186.79 180.14 L188 180.56 L188.8 180.56 L190.01 180.14 L190.81 178.88 L191.21 176.78 L191.21 175.52 L190.81 173.42 L190.01 172.16 L188.8 171.74 L188 171.74M193.55 179.72 L193.14 180.14 L193.55 180.56 L193.95 180.14 L193.55 179.72M199.33 171.74 L198.13 172.16 L197.73 173 L197.73 173.84 L198.13 174.68 L198.93 175.1 L200.54 175.52 L201.75 175.94 L202.55 176.78 L202.95 177.62 L202.95 178.88 L202.55 179.72 L202.15 180.14 L200.94 180.56 L199.33 180.56 L198.13 180.14 L197.73 179.72 L197.32 178.88 L197.32 177.62 L197.73 176.78 L198.53 175.94 L199.74 175.52 L201.34 175.1 L202.15 174.68 L202.55 173.84 L202.55 173 L202.15 172.16 L200.94 171.74 L199.33 171.74M169.91 185.9 L176.34 189.11 L169.91 192.32M188 184.07 L186.79 184.49 L185.99 185.75 L185.59 187.85 L185.59 189.11 L185.99 191.21 L186.79 192.47 L188 192.89 L188.8 192.89 L190.01 192.47 L190.81 191.21 L191.21 189.11 L191.21 187.85 L190.81 185.75 L190.01 184.49 L188.8 184.07 L188 184.07M193.55 192.05 L193.14 192.47 L193.55 192.89 L193.95 192.47 L193.55 192.05M202.55 187.01 L202.15 188.27 L201.34 189.11 L200.14 189.53 L199.74 189.53 L198.53 189.11 L197.73 188.27 L197.32 187.01 L197.32 186.59 L197.73 185.33 L198.53 184.49 L199.74 184.07 L200.14 184.07 L201.34 184.49 L202.15 185.33 L202.55 187.01 L202.55 189.11 L202.15 191.21 L201.34 192.47 L200.14 192.89 L199.33 192.89 L198.13 192.47 L197.73 191.63" fill="none" stroke="#000" stroke-width="1.35" stroke-linecap="round" stroke-linejoin="round"/>
</svg>
</body></html>
